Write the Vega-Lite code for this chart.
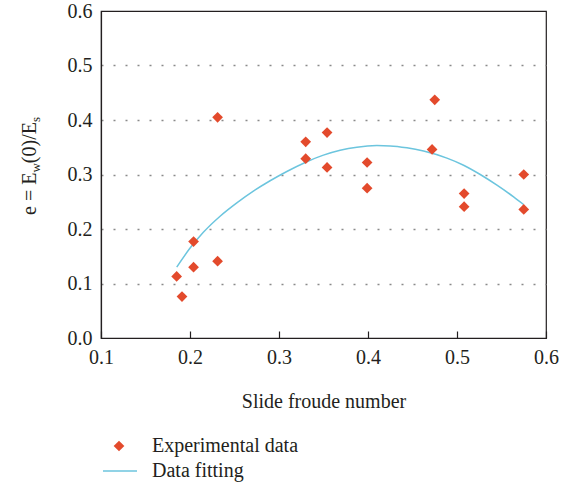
{
  "$schema": "https://vega.github.io/schema/vega-lite/v6.json",
  "width": 445,
  "height": 327,
  "autosize": {"type": "none"},
  "padding": {"left": 101, "top": 11, "right": 23, "bottom": 147},
  "background": "white",
  "config": {
    "font": "Liberation Serif",
    "view": {"stroke": "#231f20", "strokeWidth": 1.2},
    "axis": {
      "labelFont": "Liberation Serif",
      "titleFont": "Liberation Serif",
      "labelFontSize": 20,
      "titleFontSize": 20,
      "labelColor": "#231f20",
      "titleColor": "#231f20",
      "titleFontWeight": "normal",
      "domainColor": "#231f20",
      "domainWidth": 1.2,
      "tickColor": "#231f20"
    },
    "legend": {
      "labelFont": "Liberation Serif",
      "labelFontSize": 20,
      "labelColor": "#231f20",
      "padding": 0
    }
  },
  "datasets": {
    "experimental": [
      {"fr": 0.185, "e": 0.113, "group": "Experimental data"},
      {"fr": 0.191, "e": 0.076, "group": "Experimental data"},
      {"fr": 0.204, "e": 0.177, "group": "Experimental data"},
      {"fr": 0.204, "e": 0.130, "group": "Experimental data"},
      {"fr": 0.231, "e": 0.141, "group": "Experimental data"},
      {"fr": 0.231, "e": 0.405, "group": "Experimental data"},
      {"fr": 0.330, "e": 0.360, "group": "Experimental data"},
      {"fr": 0.330, "e": 0.329, "group": "Experimental data"},
      {"fr": 0.354, "e": 0.377, "group": "Experimental data"},
      {"fr": 0.354, "e": 0.313, "group": "Experimental data"},
      {"fr": 0.399, "e": 0.322, "group": "Experimental data"},
      {"fr": 0.399, "e": 0.275, "group": "Experimental data"},
      {"fr": 0.475, "e": 0.437, "group": "Experimental data"},
      {"fr": 0.472, "e": 0.346, "group": "Experimental data"},
      {"fr": 0.508, "e": 0.265, "group": "Experimental data"},
      {"fr": 0.508, "e": 0.241, "group": "Experimental data"},
      {"fr": 0.575, "e": 0.300, "group": "Experimental data"},
      {"fr": 0.575, "e": 0.236, "group": "Experimental data"}
    ],
    "fitting": [
      {"fr": 0.1851, "e": 0.130, "curve": "Data fitting"},
      {"fr": 0.2001, "e": 0.165, "curve": "Data fitting"},
      {"fr": 0.2150, "e": 0.194, "curve": "Data fitting"},
      {"fr": 0.2338, "e": 0.2235, "curve": "Data fitting"},
      {"fr": 0.2526, "e": 0.248, "curve": "Data fitting"},
      {"fr": 0.2712, "e": 0.2695, "curve": "Data fitting"},
      {"fr": 0.2900, "e": 0.2885, "curve": "Data fitting"},
      {"fr": 0.3088, "e": 0.3055, "curve": "Data fitting"},
      {"fr": 0.3313, "e": 0.3235, "curve": "Data fitting"},
      {"fr": 0.3499, "e": 0.3355, "curve": "Data fitting"},
      {"fr": 0.3687, "e": 0.3445, "curve": "Data fitting"},
      {"fr": 0.3875, "e": 0.3502, "curve": "Data fitting"},
      {"fr": 0.4100, "e": 0.3530, "curve": "Data fitting"},
      {"fr": 0.4249, "e": 0.3525, "curve": "Data fitting"},
      {"fr": 0.4437, "e": 0.3490, "curve": "Data fitting"},
      {"fr": 0.4624, "e": 0.3430, "curve": "Data fitting"},
      {"fr": 0.4887, "e": 0.3300, "curve": "Data fitting"},
      {"fr": 0.5074, "e": 0.3170, "curve": "Data fitting"},
      {"fr": 0.5261, "e": 0.3000, "curve": "Data fitting"},
      {"fr": 0.5449, "e": 0.2805, "curve": "Data fitting"},
      {"fr": 0.5636, "e": 0.2590, "curve": "Data fitting"},
      {"fr": 0.5748, "e": 0.2450, "curve": "Data fitting"}
    ]
  },
  "layer": [
    {
      "data": {"name": "fitting"},
      "mark": {"type": "line", "strokeWidth": 1.5, "interpolate": "monotone"},
      "encoding": {
        "x": {
          "field": "fr",
          "type": "quantitative",
          "scale": {"domain": [0.1, 0.6], "nice": false, "zero": false},
          "axis": {
            "values": [0.1, 0.2, 0.3, 0.4, 0.5, 0.6],
            "format": ".1f",
            "grid": false,
            "tickSize": -7,
            "tickWidth": 1.2,
            "labelPadding": 16,
            "labelFlush": false,
            "labelOverlap": false,
            "title": "Slide froude number",
            "titlePadding": 24
          }
        },
        "y": {
          "field": "e",
          "type": "quantitative",
          "scale": {"domain": [0, 0.6], "nice": false, "zero": false},
          "axis": {
            "values": [0, 0.1, 0.2, 0.3, 0.4, 0.5, 0.6],
            "format": ".1f",
            "ticks": false,
            "tickSize": 0,
            "labelPadding": 9,
            "labelOverlap": false,
            "grid": true,
            "gridDash": [2, 10],
            "gridColor": "#8a8a8a",
            "gridWidth": 1.5,
            "gridOpacity": {"condition": {"test": "datum.value <= 0 || datum.value >= 0.6", "value": 0}, "value": 1},
            "title": null
          }
        },
        "color": {
          "field": "curve",
          "type": "nominal",
          "scale": {"domain": ["Data fitting"], "range": ["#6cc5de"]},
          "legend": {
            "orient": "none",
            "legendX": 1,
            "legendY": 442,
            "title": null,
            "symbolType": "stroke",
            "symbolSize": 1156,
            "symbolStrokeWidth": 1.5,
            "labelOffset": 14
          }
        }
      }
    },
    {
      "data": {"name": "experimental"},
      "mark": {"type": "point", "shape": "diamond", "filled": true, "color": "#e34a2c", "size": 115, "opacity": 1},
      "encoding": {
        "x": {"field": "fr", "type": "quantitative"},
        "y": {"field": "e", "type": "quantitative"},
        "shape": {
          "field": "group",
          "type": "nominal",
          "scale": {"domain": ["Experimental data"], "range": ["diamond"]},
          "legend": {
            "orient": "none",
            "legendX": 8,
            "legendY": 425,
            "title": null,
            "symbolSize": 115,
            "symbolFillColor": "#e34a2c",
            "symbolStrokeWidth": 0,
            "symbolOpacity": 1,
            "labelOffset": 23
          }
        }
      }
    },
    {
      "data": {"values": [{}]},
      "mark": {"type": "text", "text": "e = E", "angle": 270, "align": "left", "baseline": "alphabetic", "fontSize": 20, "font": "Liberation Serif", "color": "#231f20"},
      "encoding": {
        "x": {"datum": 0.027, "type": "quantitative"},
        "y": {"datum": 0.2257, "type": "quantitative"}
      }
    },
    {
      "data": {"values": [{}]},
      "mark": {"type": "text", "text": "w", "angle": 270, "align": "left", "baseline": "alphabetic", "fontSize": 13, "font": "Liberation Serif", "color": "#231f20", "dx": 42.4, "dy": 4},
      "encoding": {
        "x": {"datum": 0.027, "type": "quantitative"},
        "y": {"datum": 0.2257, "type": "quantitative"}
      }
    },
    {
      "data": {"values": [{}]},
      "mark": {"type": "text", "text": "(0)/E", "angle": 270, "align": "left", "baseline": "alphabetic", "fontSize": 20, "font": "Liberation Serif", "color": "#231f20", "dx": 51.8},
      "encoding": {
        "x": {"datum": 0.027, "type": "quantitative"},
        "y": {"datum": 0.2257, "type": "quantitative"}
      }
    },
    {
      "data": {"values": [{}]},
      "mark": {"type": "text", "text": "s", "angle": 270, "align": "left", "baseline": "alphabetic", "fontSize": 13, "font": "Liberation Serif", "color": "#231f20", "dx": 92.9, "dy": 4},
      "encoding": {
        "x": {"datum": 0.027, "type": "quantitative"},
        "y": {"datum": 0.2257, "type": "quantitative"}
      }
    }
  ]
}
